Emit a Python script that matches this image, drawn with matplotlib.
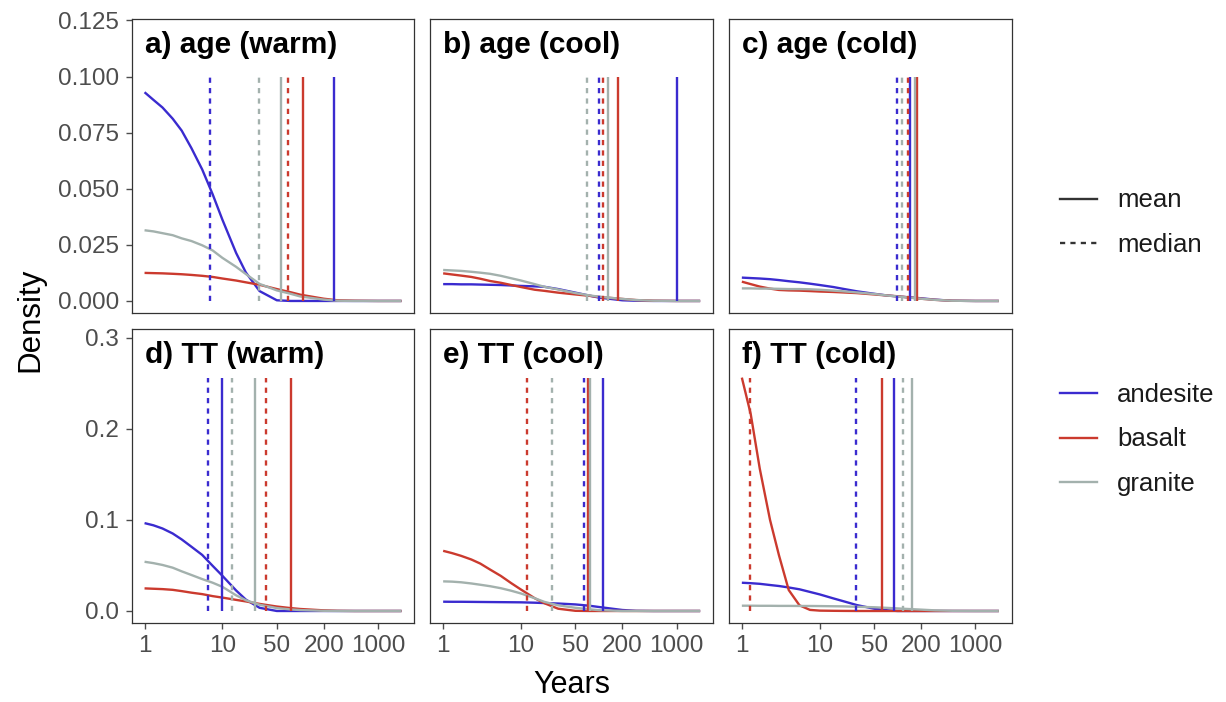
import numpy as np
import matplotlib
matplotlib.use('Agg')
import matplotlib.pyplot as plt
from matplotlib.lines import Line2D

plt.rcParams['font.family'] = ['Liberation Sans', 'DejaVu Sans']

# common year grid the densities are read at
years = [1, 1.3, 1.7, 2.3, 3, 4, 5.5, 7.5, 10, 15, 20, 30, 50, 75, 100, 200, 300, 500, 1000, 2000]

rocks = ['andesite', 'basalt', 'granite']
colors = {'andesite': '#3a2bcf', 'basalt': '#cb3a2e', 'granite': '#a3b1ad'}
titles = ['a) age (warm)', 'b) age (cool)', 'c) age (cold)',
          'd) TT (warm)', 'e) TT (cool)', 'f) TT (cold)']

# density values, one list per panel and rock
a_andesite = [.093, .0896, .0862, .0812, .0759, .0681, .0586, .0475, .0362, .0214, .0127, .0044, .0003, 0, 0, 0, 0, 0, 0, 0]
a_basalt = [.0125, .0124, .0123, .0121, .0119, .0116, .0112, .0107, .0100, .0091, .0083, .0072, .0053, .0039, .0028, .0010, .0003, .0001, 0, 0]
a_granite = [.0315, .0310, .0302, .0293, .0279, .0267, .0248, .0225, .0192, .0152, .0120, .0076, .0047, .0032, .0020, .0006, .0001, 0, 0, 0]

b_andesite = [.0075, .0075, .0074, .0074, .0073, .0072, .0071, .0069, .0067, .0065, .0063, .0053, .0037, .0024, .0015, .0003, .0001, 0, 0, 0]
b_basalt = [.0123, .0118, .0113, .0107, .0099, .0089, .0081, .0071, .0062, .0050, .0045, .0037, .0029, .0023, .0018, .0009, .0004, .0001, 0, 0]
b_granite = [.0138, .0136, .0134, .0130, .0126, .0121, .0112, .0101, .0091, .0075, .0063, .0051, .0035, .0025, .0019, .0009, .0004, .0001, 0, 0]

c_andesite = [.0104, .0102, .0100, .0097, .0093, .0088, .0083, .0077, .0071, .0062, .0054, .0043, .0032, .0024, .0020, .0012, .0006, .0001, 0, 0]
c_basalt = [.0086, .0075, .0064, .0055, .0049, .0047, .0046, .0044, .0042, .0040, .0038, .0035, .0029, .0024, .0021, .0010, .0005, .0001, 0, 0]
c_granite = [.0056, .0056, .0055, .0055, .0054, .0053, .0053, .0052, .0050, .0046, .0043, .0038, .0031, .0024, .0020, .0010, .0005, .0001, 0, 0]

d_andesite = [.0964, .0940, .0905, .0850, .0785, .0705, .0615, .0495, .0386, .0225, .0125, .0035, 0, 0, 0, 0, 0, 0, 0, 0]
d_basalt = [.0248, .0244, .0240, .0232, .0218, .0201, .0185, .0163, .0147, .0122, .0105, .0078, .0049, .0032, .0022, .0007, .0002, 0, 0, 0]
d_granite = [.0540, .0525, .0505, .0475, .0435, .0395, .0350, .0310, .0265, .0172, .0118, .0068, .0032, .0017, .0010, .0002, 0, 0, 0, 0]

e_andesite = [.0102, .0101, .0101, .0100, .0099, .0098, .0097, .0096, .0095, .0091, .0087, .0082, .0072, .0058, .0044, .0011, .0002, 0, 0, 0]
e_basalt = [.066, .0635, .0605, .0565, .0520, .0455, .0385, .0305, .0235, .0140, .0085, .0025, .0002, 0, 0, 0, 0, 0, 0, 0]
e_granite = [.0325, .0322, .0315, .0302, .0288, .0272, .0250, .0222, .0192, .0140, .0100, .0062, .0035, .0019, .0009, 0, 0, 0, 0, 0]

f_andesite = [.031, .0305, .0298, .0285, .0274, .0258, .0238, .0209, .0182, .0138, .0108, .0065, .0025, .0007, 0, 0, 0, 0, 0, 0]
f_basalt = [.256, .216, .156, .100, .061, .023, .0062, .0012, .0004, .0002, .0001, 0, 0, 0, 0, 0, 0, 0, 0, 0]
f_granite = [.0058, .0058, .0057, .0057, .0056, .0056, .0055, .0055, .0054, .0052, .0051, .0046, .0041, .0034, .0028, .0015, .0007, .0002, 0, 0]

# mean / median years per panel, order andesite, basalt, granite
means = [[268, 107, 56], [1000, 176, 131], [146, 178, 166],
         [10, 75, 26], [113, 72.5, 76], [91, 63, 155]]
medians = [[6.9, 69, 29.5], [100, 112, 71], [97, 135, 114],
           [6.6, 36.6, 13.2], [63.6, 11.9, 24.7], [29.4, 1.28, 118]]

densities = [[a_andesite, a_basalt, a_granite], [b_andesite, b_basalt, b_granite],
             [c_andesite, c_basalt, c_granite], [d_andesite, d_basalt, d_granite],
             [e_andesite, e_basalt, e_granite], [f_andesite, f_basalt, f_granite]]

vline_top = [0.1, 0.256]
row_ylim = [(-0.0055, 0.1255), (-0.0135, 0.309)]
row_ticks = [[0, 0.025, 0.05, 0.075, 0.1, 0.125], [0, 0.1, 0.2, 0.3]]
row_ticklabels = [['0.000', '0.025', '0.050', '0.075', '0.100', '0.125'], ['0.0', '0.1', '0.2', '0.3']]
xticks = [1, 10, 50, 200, 1000]

W, H = 1226, 702
fig = plt.figure(figsize=(W / 100, H / 100), dpi=100)

lefts = [131.7, 430.3, 729.0]
tops = [19.3, 329.3]
pw, ph = 282.7, 294.0
tick_col = '#4d4d4d'
lw = 1.7
dash = (0, (2.2, 2.2))

for i in range(6):
    r, c = divmod(i, 3)
    ax = fig.add_axes([lefts[c] / W, 1 - (tops[r] + ph) / H, pw / W, ph / H])
    ax.set_xscale('log')
    for k, rock in enumerate(rocks):
        ax.plot(years, densities[i][k], color=colors[rock], lw=lw, solid_capstyle='butt')
    for k, rock in enumerate(rocks):
        ax.vlines(medians[i][k], 0, vline_top[r], color=colors[rock], lw=lw, linestyles=dash)
        ax.vlines(means[i][k], 0, vline_top[r], color=colors[rock], lw=lw)
    ax.set_xlim(10 ** -0.165, 10 ** 3.466)
    ax.set_ylim(*row_ylim[r])
    ax.text(1, 0.885, titles[i], transform=ax.get_xaxis_transform(), fontsize=21.5,
            fontweight='bold', ha='left', va='baseline')
    ax.set_yticks(row_ticks[r])
    ax.set_xticks(xticks)
    ax.xaxis.set_minor_locator(matplotlib.ticker.NullLocator())
    ax.tick_params(colors=tick_col, labelcolor=tick_col, length=4.2, width=1.0, labelsize=17.5)
    ax.tick_params(axis='x', pad=4)
    ax.tick_params(axis='y', pad=5)
    if c == 0:
        ax.set_yticklabels(row_ticklabels[r])
    else:
        ax.tick_params(axis='y', left=False, labelleft=False)
    if r == 1:
        ax.set_xticklabels([str(x) for x in xticks])
    else:
        ax.tick_params(axis='x', bottom=False, labelbottom=False)
    for s in ax.spines.values():
        s.set_color('#333333')
        s.set_linewidth(0.9)

fig.text(571.7 / W, 1 - 685 / H, 'Years', fontsize=22, ha='center', va='center')
fig.text(30 / W, 1 - 320 / H, 'Density', fontsize=22.5, rotation=90, ha='center', va='center')

# legends
type_handles = [Line2D([], [], color='#333333', lw=lw),
                Line2D([], [], color='#333333', lw=lw, linestyle=dash)]
leg1 = fig.legend(type_handles, ['mean', 'median'], loc='center left',
                  bbox_to_anchor=(1060 / W, 1 - 222.9 / H), frameon=False, fontsize=18.5,
                  handlelength=1.44, handletextpad=0.78, labelspacing=0.81,
                  borderpad=0, borderaxespad=0)
rock_handles = [Line2D([], [], color=colors[r], lw=lw) for r in rocks]
leg2 = fig.legend(rock_handles, rocks, loc='center left',
                  bbox_to_anchor=(1060 / W, 1 - 439.5 / H), frameon=False, fontsize=18.5,
                  handlelength=1.44, handletextpad=0.78, labelspacing=0.81,
                  borderpad=0, borderaxespad=0)
for leg in (leg1, leg2):
    for t in leg.get_texts():
        t.set_color('#1a1a1a')

fig.savefig('out.png', dpi=100)
